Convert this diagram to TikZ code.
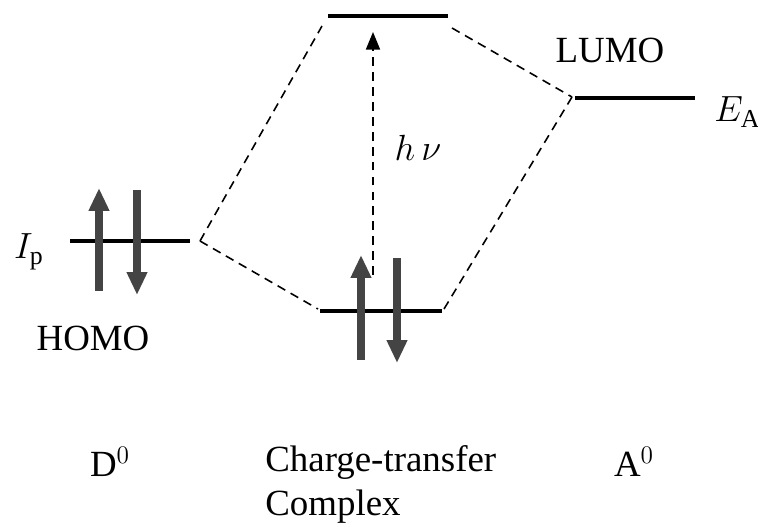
\documentclass[tikz,border=0pt]{standalone}
\usepackage{fontspec}
\setmainfont{Liberation Serif}
\usetikzlibrary{arrows.meta}
\definecolor{spin}{RGB}{68,68,68}

\begin{document}
\begin{tikzpicture}[x=0.02cm, y=-0.02cm,
    every node/.style={font=\fontsize{21}{25}\selectfont},
    level/.style={line width=2.8pt},
    link/.style={line width=0.9pt, dash pattern=on 5pt off 3.5pt},
    spinup/.style={spin, line width=4pt, -{Triangle[width=11pt,length=13pt]}},
    spindown/.style={spin, line width=4pt, -{Triangle[width=11pt,length=13pt]}}]
      \useasboundingbox (0,0) rectangle (758,522);
      % energy levels
      \coordinate (d0) at (70,241);  \coordinate (d1) at (190,241);
      \coordinate (u0) at (328,16);  \coordinate (u1) at (448,16);
      \coordinate (b0) at (320,311); \coordinate (b1) at (442,311);
      \coordinate (a0) at (575,98);  \coordinate (a1) at (695,98);
      \draw[level] (d0)--(d1); \draw[level] (u0)--(u1);
      \draw[level] (b0)--(b1); \draw[level] (a0)--(a1);
      % correlation lines
      \draw[link] (200,241)--(322,26); \draw[link] (200,241)--(318,309);
      \draw[link] (452,28)--(572,97);  \draw[link] (444,309)--(572,97);
      % electrons
      \draw[spinup] (99,291)--(99,188);  \draw[spindown] (137,190)--(137,295);
      \draw[spinup] (361,360)--(361,255); \draw[spindown] (397,258)--(397,363);
      % excitation
      \coordinate (h0) at (373,275); \coordinate (h1) at (373,32);
      \draw[link, -{Triangle[width=8pt,length=10pt]}] (h0)--(h1);
      \node (hnu) at (418,148) {$h\,\nu$};
      % labels
      \node (ip) at (29,252) {$I_{\mathrm{p}}$};
      \node (ea) [anchor=west, inner sep=0pt] at (714,112) {$E_{\mathrm{A}}$};
      \node (homo) at (93,338) {HOMO};
      \node (lumo) at (610,50) {LUMO};
      \node (dd) at (110,462) {D$^0$};
      \node (aa) at (634,462) {A$^0$};
      \node (ct) [anchor=north west, align=left, inner sep=0pt] at (265,445) {Charge-transfer\\Complex};
    \end{tikzpicture}
\end{document}
